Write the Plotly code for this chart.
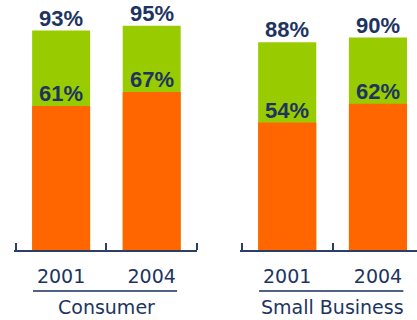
import plotly.graph_objects as go

# Share of customers, by segment and survey year
years = ["2001", "2004"]
consumer_total = [93, 95]
consumer_base = [61, 67]
business_total = [88, 90]
business_base = [54, 62]
segments = ["Consumer", "Small Business"]

GREEN = "#99CC00"
ORANGE = "#FF6600"
NAVY = "#1d3461"
AXIS = "#2b3f66"
BAR_W = 0.64

fig = go.Figure()

panels = [
    ("x", "y", consumer_total, consumer_base),
    ("x2", "y2", business_total, business_base),
]

pos = [0, 1]
for xa, ya, total, base in panels:
    fig.add_trace(go.Bar(x=pos, y=total, width=BAR_W, marker_color=GREEN,
                         marker_line_width=0, xaxis=xa, yaxis=ya,
                         showlegend=False, hoverinfo="skip"))
    fig.add_trace(go.Bar(x=pos, y=base, width=BAR_W, marker_color=ORANGE,
                         marker_line_width=0, xaxis=xa, yaxis=ya,
                         showlegend=False, hoverinfo="skip"))
    for xi, t, b in zip(pos, total, base):
        for v in (t, b):
            fig.add_annotation(x=xi, y=v, xref=xa, yref=ya, text=f"{v}%",
                               showarrow=False, yanchor="bottom", yshift=-2,
                               font=dict(family="Liberation Sans, Arial", size=22,
                                         color=NAVY, weight="bold"))

W, H = 417, 320
ax_common = dict(
    showline=True, linecolor=AXIS, linewidth=2,
    tickmode="array", tickvals=pos, ticktext=years, ticks="",
    ticklabelstandoff=8,
    tickfont=dict(family="DejaVu Sans", size=19, color=NAVY),
    showgrid=False, zeroline=False, fixedrange=True,
    minor=dict(tickmode="array", tickvals=[-0.5, 0.5, 1.5], ticks="inside",
               ticklen=7, tickwidth=2, tickcolor=AXIS, showgrid=False),
)
y_common = dict(range=[0, 100], visible=False, domain=[(H - 250) / H, (H - 14) / H],
                fixedrange=True)

fig.update_layout(
    width=W, height=H,
    margin=dict(l=0, r=0, t=0, b=0),
    paper_bgcolor="white", plot_bgcolor="white",
    barmode="overlay",
    xaxis=dict(domain=[14 / W, 197 / W], range=[-0.52, 1.5], **ax_common),
    xaxis2=dict(domain=[240 / W, 1.0], range=[-0.52, 1.43], anchor="y2", **ax_common),
    yaxis=dict(anchor="x", **y_common),
    yaxis2=dict(anchor="x2", **y_common),
)

# Segment names under each panel, with a rule above them
for xa, name in zip(["x", "x2"], segments):
    fig.add_annotation(x=0.5, y=(H - 307) / H, xref=xa, yref="paper", text=name,
                       showarrow=False, yanchor="middle",
                       font=dict(family="DejaVu Sans", size=19, color=NAVY))
    fig.add_shape(type="line", xref=xa, yref="paper", x0=-0.31, x1=1.28,
                  y0=(H - 291) / H, y1=(H - 291) / H,
                  line=dict(color="#4f6284", width=2))

fig.write_html("out.html")
